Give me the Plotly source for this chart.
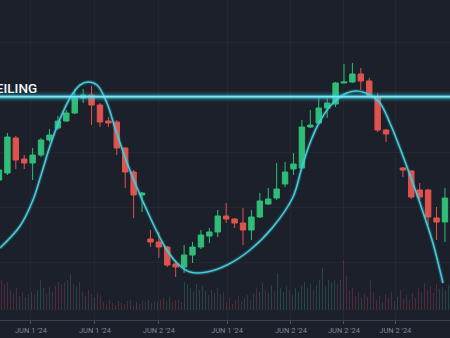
import plotly.graph_objects as go

# ---------------- data ----------------
candle_idx = list(range(0, 47)) + list(range(48, 54))
opens = [79, 82.5, 100, 89.5, 87.5, 91.5, 99, 105, 108.5, 112.5, 120, 121.5, 116.5, 108.5, 108, 95, 83, 71.5,
         49.5, 48, 45.5, 37, 35.5, 41.5, 45.5, 51, 53, 61, 59.5, 57.5, 54, 60.5, 67, 70, 77, 84.5, 85,
         105.5, 107.5, 115, 117, 127.5, 128, 132, 128.5, 120.5, 104,
         85, 83.5, 74, 74, 60, 58]
closes = [84, 100.5, 89, 87.5, 91.5, 99, 101.5, 108.5, 112.5, 120, 121.5, 116.5, 108, 107.5, 95, 83, 71.5, 72.5,
          48, 45.5, 36.5, 35.5, 41.5, 45.5, 51.5, 53, 61, 59.5, 57.5, 54, 60.5, 68.5, 69.5, 74.5, 83, 87, 105.5,
          106.5, 115, 117.5, 127.5, 128, 132, 128.5, 121, 104, 102,
          84, 70.5, 70.5, 60.5, 58, 70]
highs = [86.5, 102.5, 101, 91.5, 95, 100, 104.5, 111, 114, 124.5, 124.5, 126, 117.5, 110.5, 109, 95.5, 84, 73,
         54, 53, 46, 38, 46.5, 48, 54, 55, 64, 67.5, 60, 65, 64, 72.5, 75, 87.5, 88, 92.5, 109,
         114, 120, 120, 128, 137, 137.5, 135, 130, 122.5, 104.5,
         85.5, 84, 77.5, 74.5, 65.5, 75]
lows = [76.5, 81.5, 84.5, 84.5, 79, 90.5, 98, 104, 108, 112, 117.5, 106.5, 105.5, 105.5, 91.5, 75, 60, 63,
        45.5, 40, 35.5, 30.5, 32.5, 37.5, 44.5, 47.5, 50.5, 57.5, 55, 46.5, 49, 60, 66.5, 69, 75.5, 81.5, 85,
        105, 106.5, 110, 115.5, 127.5, 127.5, 124, 120.5, 103, 98,
        80.5, 69.5, 69, 56.5, 49, 48]

curve_x = [0.12, 2.50, 4.04, 5.11, 6.06, 7.25, 8.44, 9.63, 10.58, 11.65, 12.83, 13.79, 14.97, 15.92, 17.94,
           19.73, 21.15, 22.70, 24.72, 27.10, 29.83, 32.56, 34.94, 36.01, 36.96, 38.15, 39.69, 41.35, 42.54,
           44.09, 45.28, 46.46, 47.65, 48.84, 50.03, 51.57, 52.76]
curve_y = [45, 56, 69, 83, 96, 109.5, 120, 126.5, 128, 126.5, 117.5, 105, 90.5, 80, 60.5,
           45.5, 37.5, 33, 33, 36.5, 44, 55.5, 70.5, 85.5, 97.5, 108.5, 117.5, 122.5, 123.5,
           121.5, 117.5, 107.5, 95, 81.5, 67.5, 47.5, 27.5]

ceiling_level = 120.6
ceiling_label = "CEILING"

tick_pos = [3.8, 11.4, 19.0, 27.1, 34.7, 41.0, 47.1]
tick_labels = ["JUN 1 '24", "JUN 1 '24", "JUN 2 '24", "JUN 1 '24", "JUN 2 '24", "JUN 2 '24", "JUN 2 '24"]

volumes = [30, 26, 28, 20, 17, 22, 14, 18, 13, 16, 18,
           15, 20, 30, 22, 16, 23, 18,
           24, 28, 26, 28, 30, 36, 26, 23, 28,
           18, 14, 20, 16, 13, 17, 15, 8, 6, 10, 7, 5, 9,
           7, 6, 9, 10, 5, 8, 6, 9, 8, 10, 7, 9, 8, 10, 12, 9, 13, 8, 10, 10, 8,
           28, 26, 22, 18, 26, 20, 24, 19, 15, 20, 17, 22, 16, 18,
           8, 12, 6, 10, 14, 9, 12, 15, 10, 16, 22, 18, 27, 20, 17, 24, 19,
           37, 22, 18, 24, 20, 15, 22, 18, 24, 28, 22, 26, 20, 25, 30, 42, 24, 30, 28, 30, 26, 30,
           50, 34, 20, 22, 14, 18, 12, 16, 13, 30, 18, 10, 14, 8, 16, 12, 18, 9, 13, 20, 11, 15, 10, 17, 12,
           22, 18, 27, 20, 24, 17, 26, 21,
           23, 20, 25]
vol_dir = ("ddddddudud" "u"
           "duuudud"
           "ddddu" "udud"
           "duddudddddd" "ud"
           "ddddduddd" "uddudddu" "dddd"
           "uuuuuuuudu" "udud"
           "dddddduddudu" "udu" "ud"
           "uuuuduuuuuuu" "duuuuuuudu"
           "ddddddudddddd" "uddddudddddddddd" "dddu"
           "uuu")

# ---------------- figure ----------------
BG = "#1b202b"
GREEN = "#2fbd77"
RED = "#e0524e"
CYAN = "#42cbd9"

vol_x = list(range(len(volumes)))
vol_colors = ["rgba(60,150,120,0.33)" if d == "u" else "rgba(175,70,82,0.33)" for d in vol_dir[:len(volumes)]]

fig = go.Figure()
fig.add_trace(go.Bar(x=vol_x, y=volumes, marker=dict(color=vol_colors, line=dict(width=0)),
                     width=0.45, xaxis="x", yaxis="y", hoverinfo="skip", showlegend=False))
fig.add_trace(go.Candlestick(x=candle_idx, open=opens, high=highs, low=lows, close=closes,
                             increasing=dict(line=dict(color=GREEN, width=1), fillcolor=GREEN),
                             decreasing=dict(line=dict(color=RED, width=1), fillcolor=RED),
                             whiskerwidth=0, xaxis="x2", yaxis="y2", showlegend=False))
fig.add_trace(go.Scatter(x=curve_x, y=curve_y, mode="lines", line=dict(color="rgba(66,203,217,0.22)", width=4, shape="spline"),
                         xaxis="x2", yaxis="y2", showlegend=False, hoverinfo="skip"))
fig.add_trace(go.Scatter(x=curve_x, y=curve_y, mode="lines", line=dict(color=CYAN, width=1.6, shape="spline"),
                         xaxis="x2", yaxis="y2", showlegend=False, hoverinfo="skip"))

# ceiling line with glow
for w, a in [(10, 0.10), (6, 0.22), (3.5, 0.55)]:
    fig.add_shape(type="line", xref="paper", yref="y2", x0=0, x1=1, y0=ceiling_level, y1=ceiling_level,
                  line=dict(color=f"rgba(70,215,235,{a})", width=w))
fig.add_shape(type="line", xref="paper", yref="y2", x0=0, x1=1, y0=ceiling_level, y1=ceiling_level,
              line=dict(color="#7fe6f2", width=1.6))

fig.add_annotation(text=ceiling_label, xref="paper", yref="y2", x=39 / 450, y=ceiling_level + 4.5,
                   xanchor="right", yanchor="middle", showarrow=False,
                   font=dict(family="Roboto", size=13.5, color="#eef8fa", weight=500))

bottom = 18 / 338
fig.update_layout(
    width=450, height=338, margin=dict(l=0, r=0, t=0, b=0),
    paper_bgcolor=BG, plot_bgcolor=BG,
    bargap=0, boxgap=0.08,
    xaxis=dict(range=[-0.5, 149.5], visible=False, fixedrange=True),
    yaxis=dict(domain=[bottom, 1], range=[-10, 310], showticklabels=False, zeroline=False,
               showgrid=False, fixedrange=True),
    xaxis2=dict(overlaying="x", anchor="y2", side="bottom", range=[0.12, 53.6], rangeslider=dict(visible=False),
                tickvals=tick_pos, ticktext=tick_labels, showgrid=True, gridcolor="rgba(255,255,255,0.035)",
                showline=True, linecolor="#3a414d", linewidth=1, ticks="outside", ticklen=3, tickcolor="#4a515d",
                tickfont=dict(family="Roboto", size=7.5, color="#7e8693"), zeroline=False),
    yaxis2=dict(overlaying="y", range=[9, 169], tickvals=[38, 65.5, 93, 120.5, 148], showticklabels=False,
                showgrid=True, gridcolor="rgba(255,255,255,0.035)", zeroline=False),
)

fig.write_html("out.html")
